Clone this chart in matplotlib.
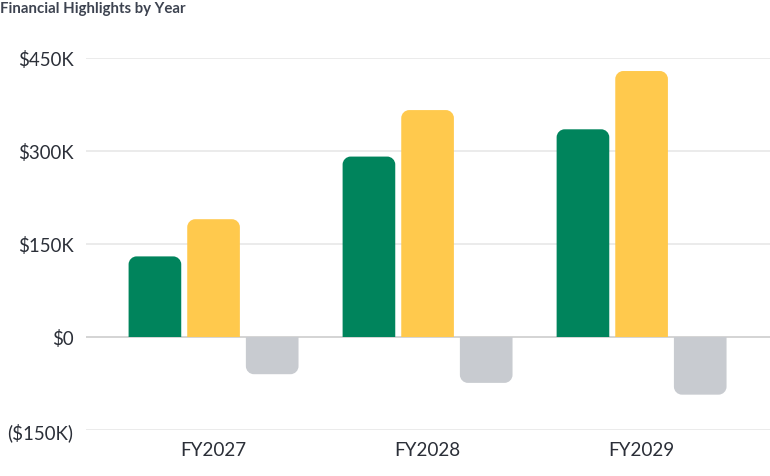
import matplotlib
matplotlib.use("Agg")
import matplotlib.pyplot as plt
from matplotlib.path import Path
from matplotlib.patches import PathPatch
import numpy as np

categories = ["FY2027", "FY2028", "FY2029"]
series_a = [130, 291, 335]     # green, $K
series_b = [190, 366, 429]     # yellow, $K
series_c = [-60, -74, -93]     # grey, $K
yticks = [-150, 0, 150, 300, 450]
ytick_labels = ["($150K)", "$0", "$150K", "$300K", "$450K"]
colors = ["#00845C", "#FFC94D", "#C8CBD0"]

W, H = 770, 477
fig = plt.figure(figsize=(W / 100, H / 100), dpi=100)
ax_left, ax_right, ax_top, ax_bot = 86, 770, 59, 431
ax = fig.add_axes([ax_left / W, (H - ax_bot) / H, (ax_right - ax_left) / W, (ax_bot - ax_top) / H])

xlim = (-0.596, 2.60)
ylim = (-150, 450)
ax.set_xlim(*xlim)
ax.set_ylim(*ylim)

font = "Lato"
plt.rcParams["font.family"] = font

for s in ax.spines.values():
    s.set_visible(False)
ax.set_yticks(yticks)
ax.set_yticklabels(ytick_labels, fontsize=13.4, color="#2b2f38", family=font)
ax.set_xticks(range(len(categories)))
ax.set_xticklabels(categories, fontsize=13.6, color="#2b2f38", family=font)
ax.tick_params(axis="both", length=0)
ax.tick_params(axis="y", pad=9)
ax.tick_params(axis="x", pad=8)

for t in yticks:
    ax.axhline(t, color="#c9c9c9" if t == 0 else "#e6e6e6", lw=1.1, zorder=1)

px_per_x = (ax_right - ax_left) / (xlim[1] - xlim[0])
px_per_y = (ax_bot - ax_top) / (ylim[1] - ylim[0])
r_px = 8
rx = r_px / px_per_x
ry = r_px / px_per_y

def rounded_bar(x0, w, v, color):
    x1 = x0 + w
    k = 0.55
    if v >= 0:
        top = v
        verts = [(x0, 0), (x0, top - ry), (x0, top - ry + k * ry), (x0 + rx - k * rx, top), (x0 + rx, top),
                 (x1 - rx, top), (x1 - rx + k * rx, top), (x1, top - ry + k * ry), (x1, top - ry),
                 (x1, 0), (x0, 0)]
    else:
        b = v
        verts = [(x0, 0), (x0, b + ry), (x0, b + ry - k * ry), (x0 + rx - k * rx, b), (x0 + rx, b),
                 (x1 - rx, b), (x1 - rx + k * rx, b), (x1, b + ry - k * ry), (x1, b + ry),
                 (x1, 0), (x0, 0)]
    codes = [Path.MOVETO, Path.LINETO, Path.CURVE4, Path.CURVE4, Path.CURVE4,
             Path.LINETO, Path.CURVE4, Path.CURVE4, Path.CURVE4, Path.LINETO, Path.CLOSEPOLY]
    ax.add_patch(PathPatch(Path(verts, codes), facecolor=color, edgecolor="none", zorder=3))

bw = 0.246
step = 0.274
for i in range(len(categories)):
    for j, (vals, c) in enumerate(zip([series_a, series_b, series_c], colors)):
        cx = i + (j - 1) * step
        rounded_bar(cx - bw / 2, bw, vals[i], c)

fig.text(0.0, 1 - 8.5 / H, "Financial Highlights by Year", fontsize=10.8, fontweight="bold",
         color="#3d4350", ha="left", va="center", family=font)

fig.savefig("out.png", dpi=100)
